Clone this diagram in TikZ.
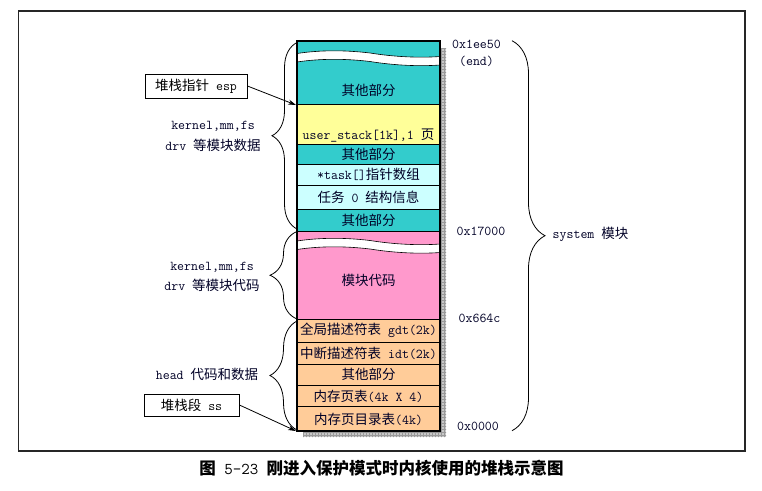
\documentclass[tikz,border=0pt]{standalone}
\usepackage{fontspec}
\newfontfamily\cjk{Noto Sans CJK SC}
\usetikzlibrary{decorations.pathreplacing,arrows.meta}
\newcommand{\zhs}[1]{{\cjk #1}}
\definecolor{cteal}{HTML}{33CCCC}
\definecolor{cyel}{HTML}{FFFF99}
\definecolor{ccyan}{HTML}{CCFFFF}
\definecolor{cpink}{HTML}{FF99CC}
\definecolor{corange}{HTML}{FFCC99}
\definecolor{shadowc}{HTML}{C8C8C8}
\begin{document}
\begin{tikzpicture}[x=1pt,y=-1pt,
  lbl/.style={font=\fontsize{13.5}{16}\selectfont\ttfamily, inner sep=0pt, text=black!85!blue},
  blk/.style={draw=black, line width=0.8pt},
  boxl/.style={draw=black, line width=0.9pt, font=\fontsize{13.5}{16}\selectfont\ttfamily, minimum height=24pt, inner sep=0pt},
  brc/.style={decorate, line width=0.8pt},
  arr/.style={-{Stealth[length=8pt,width=5pt]}, line width=0.8pt}]
\useasboundingbox (0,0) rectangle (762,490);
% frame
\draw[line width=1.3pt, black!85] (18.5,11) rectangle (745,451);
% shadow
\fill[shadowc] (303,48) rectangle (446,437);
\begin{scope}
\clip (440,48) rectangle (446,437) (303,431) rectangle (446,437);
\draw[gray!80, line width=0.3pt, step=3pt] (300,45) grid (447,438);
\end{scope}
% blocks
\draw[blk, fill=cteal] (297,41) rectangle (440,104.3);
\draw[blk, fill=cyel] (297,104.3) rectangle (440,144.3);
\draw[blk, fill=cteal] (297,144.3) rectangle (440,164);
\draw[blk, fill=ccyan] (297,164) rectangle (440,185);
\draw[blk, fill=ccyan] (297,185) rectangle (440,209);
\draw[blk, fill=cteal] (297,209) rectangle (440,231);
\draw[blk, fill=cpink] (297,231) rectangle (440,319.3);
\draw[blk, fill=corange] (297,319.3) rectangle (440,342);
\draw[blk, fill=corange] (297,342) rectangle (440,364);
\draw[blk, fill=corange] (297,364) rectangle (440,385);
\draw[blk, fill=corange] (297,385) rectangle (440,406.7);
\draw[blk, fill=corange] (297,406.7) rectangle (440,431);
% waves
\foreach \dy in {0,187.5}{
  \fill[white] (297,53.5+\dy) .. controls (320,50+\dy) and (345,50+\dy) .. (370,53+\dy) .. controls (395,57+\dy) and (420,58+\dy) .. (440,56.5+\dy)
     -- (440,65+\dy) .. controls (420,66.5+\dy) and (395,65.5+\dy) .. (370,61.5+\dy) .. controls (345,58.5+\dy) and (320,58.5+\dy) .. (297,62+\dy) -- cycle;
  \draw[line width=0.6pt] (297,53.5+\dy) .. controls (320,50+\dy) and (345,50+\dy) .. (370,53+\dy) .. controls (395,57+\dy) and (420,58+\dy) .. (440,56.5+\dy);
  \draw[line width=0.6pt] (297,62+\dy) .. controls (320,58.5+\dy) and (345,58.5+\dy) .. (370,61.5+\dy) .. controls (395,65.5+\dy) and (420,66.5+\dy) .. (440,65+\dy);
}
% column outline
\draw[line width=1.5pt] (297,41) rectangle (440,431);
% block texts
\node[lbl] (b1) at (368.5,90) {\zhs{其他部分}};
\node[lbl, anchor=base] (b2) at (368.5,139.5) {user\_stack[1k],1 \zhs{页}};
\node[lbl] (b3) at (368.5,154) {\zhs{其他部分}};
\node[lbl] (b4) at (368.5,174.5) {*task[]\zhs{指针数组}};
\node[lbl] (b5) at (368.5,197) {\zhs{任务} 0 \zhs{结构信息}};
\node[lbl] (b6) at (368.5,220) {\zhs{其他部分}};
\node[lbl] (b7) at (368.5,280) {\zhs{模块代码}};
\node[lbl] (b8) at (368.5,330.5) {\zhs{全局描述符表} gdt(2k)};
\node[lbl] (b9) at (368.5,353) {\zhs{中断描述符表} idt(2k)};
\node[lbl] (b10) at (368.5,374.5) {\zhs{其他部分}};
\node[lbl] (b11) at (368.5,396) {\zhs{内存页表}(4k X 4)};
\node[lbl] (b12) at (368.5,419) {\zhs{内存页目录表}(4k)};
% addresses
\node[lbl] (a1) at (476.5,44) {0x1ee50};
\node[lbl] (a2) at (476.5,61.5) {(end)};
\node[lbl] (a3) at (481,231) {0x17000};
\node[lbl] (a4) at (479.5,318) {0x664c};
\node[lbl] (a5) at (478,426) {0x0000};
% right brace
\draw[brc, decoration={brace, amplitude=33pt}] (512,40.7) -- (512,430.7);
\node[lbl, anchor=west] (sys) at (552.5,234) {system \zhs{模块}};
% left braces
\draw[brc, decoration={brace, amplitude=25pt}] (297,229) -- (297,42.5);
\draw[brc, decoration={brace, amplitude=27pt}] (297,319) -- (297,231.5);
\draw[brc, decoration={brace, amplitude=27pt}] (297,430) -- (297,321);
\node[lbl] (l1) at (213,126) {kernel,mm,fs};
\node[lbl] (l2) at (213,145) {drv \zhs{等模块数据}};
\node[lbl] (l3) at (212,267) {kernel,mm,fs};
\node[lbl] (l4) at (212,285) {drv \zhs{等模块代码}};
\node[lbl] (l5) at (207,374) {head \zhs{代码和数据}};
% pointer boxes
\node[boxl, minimum width=102pt] (esp) at (196,86) {\zhs{堆栈指针} esp};
\node[boxl, minimum width=95pt, minimum height=22pt] (ss) at (191.5,405) {\zhs{堆栈段} ss};
\coordinate (espt) at (296,105);
\coordinate (sst) at (296,431);
\draw[arr] (esp.east) -- (espt);
\draw[arr] (ss.east) -- (sst);
% caption
\node[inner sep=0pt, font=\fontsize{16.5}{19}\selectfont\ttfamily] (cap) at (381.5,468) {\zhs{\bfseries 图} 5-23 \zhs{\bfseries 刚进入保护模式时内核使用的堆栈示意图}};
\end{tikzpicture}
\end{document}
